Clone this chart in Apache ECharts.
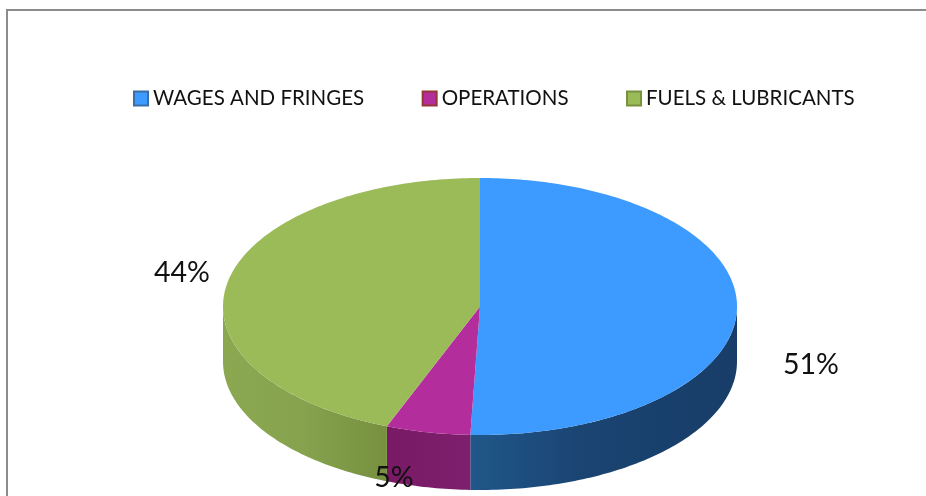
<!DOCTYPE html>
<html><head><meta charset="utf-8">
<style>html,body{margin:0;padding:0;background:#fff}#c{width:926px;height:496px}</style>
<script src="https://cdn.jsdelivr.net/npm/echarts@6/dist/echarts.min.js"></script>
</head><body><div id="c"></div>
<script>
// Data (labels show the rounded shares)
const categories = ['WAGES AND FRINGES', 'OPERATIONS', 'FUELS & LUBRICANTS'];
const shares = [50.6, 5.3, 44.1];

// Styles
const topColors = ['#3d9bff', '#b32e9c', '#9bbb59'];
const legendBorders = ['#3a6ea5', '#953735', '#76923c'];
const sideStops = [
  [[0, '#205788'], [0.15, '#1e5082'], [0.42, '#1a4472'], [1, '#183d68']],
  [[0, '#7a1a66'], [1, '#7d1f6c']],
  [[0, '#8ba851'], [0.5, '#86a24e'], [1, '#76903f']]
];
const labelPos = [[811, 365], [394, 478], [182, 273]];
const G = {cx: 480, cy: 306.5, rx: 257, ry: 128.5, depth: 55};

const total = shares.reduce((a, b) => a + b, 0);
function pt(frac, dy) {
  const a = frac * 2 * Math.PI;
  return [G.cx + G.rx * Math.sin(a), G.cy - G.ry * Math.cos(a) + (dy || 0)];
}
function arc(f0, f1, dy) {
  const out = [], n = Math.max(2, Math.ceil((f1 - f0) * 360));
  for (let i = 0; i <= n; i++) out.push(pt(f0 + (f1 - f0) * i / n, dy));
  return out;
}
function renderSlice(idx) {
  return function (params, api) {
    const before = shares.slice(0, idx).reduce((a, b) => a + b, 0);
    const f0 = before / total, f1 = f0 + api.value(0) / total;
    const children = [];
    // outer wall: visible only on the front half of the ellipse
    const s0 = Math.max(f0, 0.25), s1 = Math.min(f1, 0.75);
    if (s1 > s0) {
      const rim = arc(s0, s1, 0);
      const low = arc(s0, s1, G.depth).reverse();
      children.push({
        type: 'polygon',
        shape: {points: rim.concat(low)},
        style: {fill: new echarts.graphic.LinearGradient(0, 0, 1, 0,
          sideStops[idx].map(s => ({offset: s[0], color: s[1]})))}
      });
    }
    children.push({
      type: 'polygon',
      shape: {points: [[G.cx, G.cy]].concat(arc(f0, f1, 0))},
      style: {fill: topColors[idx]}
    });
    return {type: 'group', children: children};
  };
}

const chart = echarts.init(document.getElementById('c'), null, {renderer: 'canvas'});
const series = categories.map((name, i) => ({
  name: name,
  type: 'custom',
  coordinateSystem: 'none',
  renderItem: renderSlice(i),
  data: [[shares[i]]],
  itemStyle: {color: topColors[i], borderColor: legendBorders[i], borderWidth: 2},
  silent: true,
  animation: false
}));
// percentage labels, drawn over every slice
series.push({
  type: 'custom',
  coordinateSystem: 'none',
  z: 10,
  silent: true,
  animation: false,
  data: shares.map(v => [v]),
  renderItem: function (params, api) {
    return {
      type: 'text',
      style: {
        text: Math.round(api.value(0)) + '%',
        x: labelPos[params.dataIndex][0],
        y: labelPos[params.dataIndex][1],
        align: 'center', verticalAlign: 'middle',
        font: '28.5px Lato', fill: '#111'
      }
    };
  }
});

chart.setOption({
  backgroundColor: '#fff',
  animation: false,
  graphic: [
    {type: 'line', silent: true, z: -1, shape: {x1: 6, y1: 10, x2: 926, y2: 10}, style: {stroke: '#8c8c8c', lineWidth: 2}},
    {type: 'line', silent: true, z: -1, shape: {x1: 7, y1: 9, x2: 7, y2: 496}, style: {stroke: '#8c8c8c', lineWidth: 2}}
  ],
  legend: {
    left: 133, top: 88, padding: 0, icon: 'rect',
    data: categories,
    itemWidth: 14, itemHeight: 14, itemGap: 57.5,
    textStyle: {fontFamily: 'Lato', fontSize: 20.5, color: '#111'},
    selectedMode: false
  },
  series: series
});
</script></body></html>
